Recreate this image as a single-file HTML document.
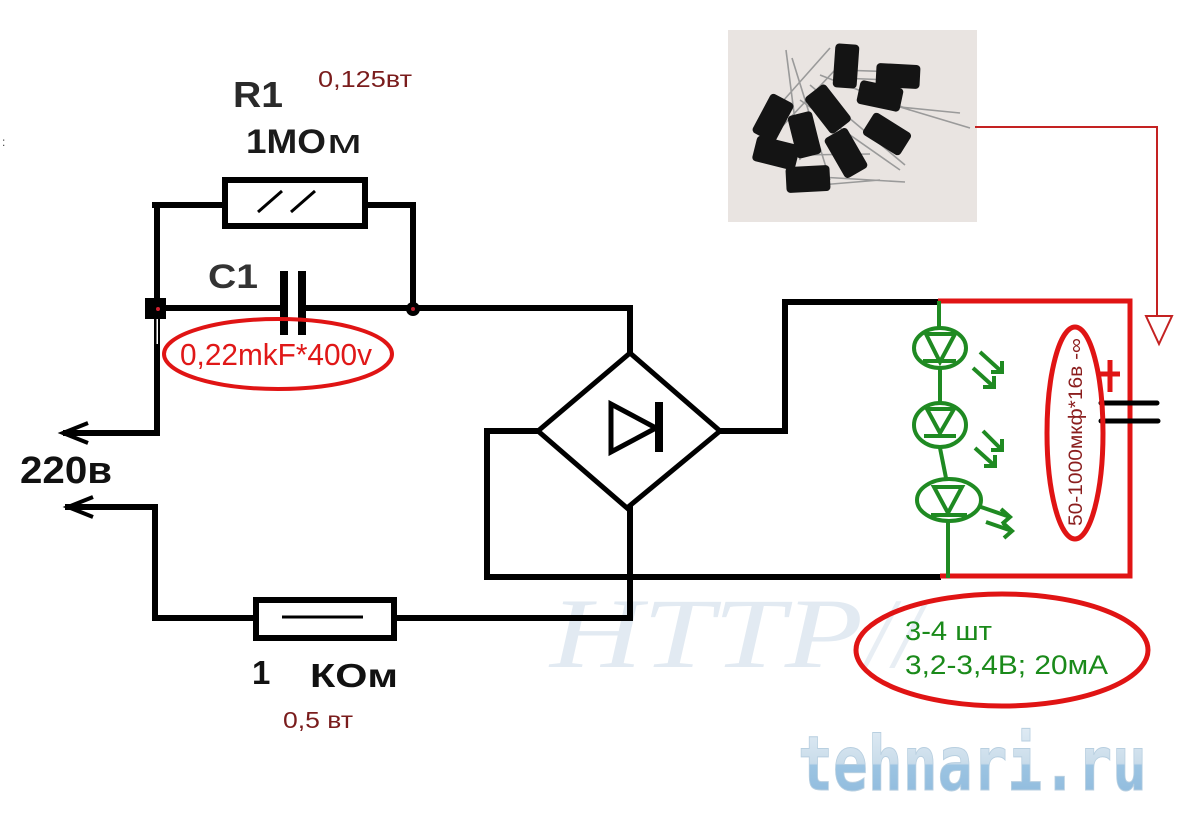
<!DOCTYPE html>
<html>
<head>
<meta charset="utf-8">
<style>
html,body{margin:0;padding:0;background:#fff;}
svg{display:block;}
</style>
</head>
<body>
<svg width="1197" height="822" viewBox="0 0 1197 822" xmlns="http://www.w3.org/2000/svg">
<defs>
<linearGradient id="tg" x1="0" y1="0" x2="0" y2="1">
<stop offset="0" stop-color="#e4eef6"/>
<stop offset="0.5" stop-color="#c9dcea"/>
<stop offset="0.52" stop-color="#9cc4e2"/>
<stop offset="1" stop-color="#8db9dc"/>
</linearGradient>
</defs>
<rect width="1197" height="822" fill="#fff"/>

<!-- watermark HTTP -->
<text x="550" y="667" font-family="Liberation Serif, serif" font-style="italic" font-size="100" fill="#e2eaf2" textLength="313" lengthAdjust="spacingAndGlyphs">HTTP</text>
<text x="866" y="667" font-family="Liberation Serif, serif" font-style="italic" font-size="100" fill="#e8eef4">//</text>

<!-- tehnari.ru watermark -->
<text x="798" y="790" font-family="DejaVu Sans Mono, monospace" font-weight="bold" font-size="76" fill="url(#tg)" stroke="#b8cfe0" stroke-width="1" textLength="349" lengthAdjust="spacingAndGlyphs">tehnari.ru</text>

<!-- photo -->
<rect x="728" y="30" width="249" height="192" fill="#e9e4e1"/>
<g stroke="#9a9a9a" stroke-width="1.6" fill="none">
<line x1="786" y1="50" x2="800" y2="160"/>
<line x1="792" y1="58" x2="830" y2="180"/>
<line x1="830" y1="48" x2="775" y2="110"/>
<line x1="835" y1="70" x2="760" y2="150"/>
<line x1="820" y1="75" x2="910" y2="110"/>
<line x1="880" y1="105" x2="960" y2="113"/>
<line x1="870" y1="98" x2="970" y2="128"/>
<line x1="810" y1="85" x2="905" y2="165"/>
<line x1="800" y1="100" x2="900" y2="170"/>
<line x1="820" y1="177" x2="905" y2="182"/>
<line x1="820" y1="185" x2="880" y2="180"/>
<line x1="800" y1="155" x2="870" y2="154"/>
<line x1="840" y1="70" x2="900" y2="72"/>
<line x1="840" y1="78" x2="890" y2="80"/>
</g>
<g fill="#141414">
<rect x="834" y="44" width="24" height="44" rx="4" transform="rotate(4 846 66)"/>
<rect x="876" y="64" width="44" height="24" rx="4" transform="rotate(3 898 76)"/>
<rect x="858" y="84" width="44" height="24" rx="4" transform="rotate(12 880 96)"/>
<rect x="760" y="96" width="26" height="44" rx="4" transform="rotate(28 773 118)"/>
<rect x="815" y="86" width="26" height="46" rx="4" transform="rotate(-38 828 109)"/>
<rect x="874" y="112" width="26" height="44" rx="4" transform="rotate(-58 887 134)"/>
<rect x="792" y="113" width="25" height="44" rx="4" transform="rotate(-14 804 135)"/>
<rect x="833" y="130" width="26" height="46" rx="4" transform="rotate(-30 846 153)"/>
<rect x="754" y="140" width="44" height="26" rx="4" transform="rotate(14 776 153)"/>
<rect x="786" y="166" width="44" height="26" rx="4" transform="rotate(-3 808 179)"/>
</g>

<!-- red arrow from photo -->
<path d="M975,127 H1157 V317" fill="none" stroke="#c42222" stroke-width="2"/>
<polygon points="1146,316 1172,316 1159,344" fill="#fff" stroke="#c42222" stroke-width="2"/>

<!-- black wiring -->
<g fill="none" stroke="#000" stroke-width="6" stroke-linecap="square">
<path d="M155,205 H222"/>
<path d="M366,205 H413 V308"/>
<path d="M157,205 V433 H66"/>
<path d="M155,308 H281"/>
<path d="M305,308 H630 V353"/>
<path d="M68,507 H155 V618 H253"/>
<path d="M396,618 H630 V508"/>
<path d="M538,431 H487 V577 H938"/>
<path d="M720,431 H785 V302 H936"/>
</g>
<!-- arrowheads 220v -->
<g stroke="#000" stroke-width="4" fill="none">
<path d="M88,423 L63,433 L88,443"/>
<path d="M93,497 L68,507 L93,517"/>
</g>
<!-- R1 resistor -->
<rect x="225" y="180" width="140" height="46" fill="#fff" stroke="#000" stroke-width="6"/>
<g stroke="#000" stroke-width="3">
<line x1="258" y1="212" x2="282" y2="191"/>
<line x1="291" y1="212" x2="315" y2="191"/>
</g>
<!-- C1 plates -->
<rect x="280" y="271" width="8" height="64" fill="#000"/>
<rect x="298" y="271" width="8" height="64" fill="#000"/>
<!-- junctions -->
<rect x="145" y="298" width="21" height="21" fill="#000"/>
<rect x="156.5" y="319" width="1.5" height="25" fill="#fff"/>
<circle cx="158" cy="309" r="2" fill="#d02030"/>
<circle cx="413" cy="309" r="7" fill="#000"/>
<circle cx="413" cy="309" r="2" fill="#c02030"/>
<!-- lower resistor -->
<rect x="256" y="600" width="138" height="38" fill="#fff" stroke="#000" stroke-width="6"/>
<line x1="282" y1="617" x2="363" y2="617" stroke="#000" stroke-width="3"/>
<!-- bridge -->
<polygon points="630,353 720,431 627,508 538,431" fill="#fff" stroke="#000" stroke-width="5"/>
<polygon points="611,404 611,452 656,428" fill="none" stroke="#000" stroke-width="5"/>
<rect x="655" y="402" width="8" height="50" fill="#000"/>

<!-- red loop -->
<path d="M938,301 H1130 V576 H940" fill="none" stroke="#e01414" stroke-width="5"/>

<!-- LEDs green -->
<g fill="none" stroke="#1f8a22" stroke-width="4">
<path d="M939,301 V327"/>
<path d="M940,369 V403"/>
<path d="M940,448 L946,478"/>
<path d="M948,522 V578"/>
<ellipse cx="940" cy="348" rx="26" ry="20"/>
<ellipse cx="940" cy="425" rx="26" ry="22"/>
<ellipse cx="949" cy="500" rx="32" ry="21"/>
<polygon points="926,334 955,334 940,362"/>
<line x1="923" y1="361" x2="956" y2="361"/>
<polygon points="927,409 954,409 940,433"/>
<line x1="924" y1="436" x2="956" y2="436"/>
<polygon points="934,487 962,487 948,513"/>
<line x1="931" y1="515" x2="967" y2="515"/>
<!-- light arrows -->
<path d="M980,352 L1002,372 M1002,361 V372 H991"/>
<path d="M973,368 L994,387 M994,376 V387 H983"/>
<path d="M983,431 L1002,450 M1002,439 V450 H991"/>
<path d="M975,448 L995,466 M995,455 V466 H984"/>
<path d="M981,507 L1010,517 M1001,509 L1010,517 L1002,524"/>
<path d="M986,522 L1012,531 M1003,523 L1012,531 L1004,538"/>
</g>

<!-- electrolytic cap -->
<g stroke="#000" stroke-width="5" stroke-linecap="round">
<line x1="1101" y1="403" x2="1157" y2="403"/>
<line x1="1101" y1="421" x2="1158" y2="421"/>
</g>
<g stroke="#e01414" stroke-width="5">
<line x1="1097" y1="374" x2="1120" y2="374"/>
<line x1="1110" y1="360" x2="1110" y2="392"/>
</g>
<ellipse cx="1075" cy="433" rx="28" ry="106" fill="none" stroke="#e01414" stroke-width="5"/>
<text transform="translate(1082,526) rotate(-90)" x="0" y="0" font-family="Liberation Sans, DejaVu Sans, sans-serif" font-size="19" fill="#8b1e1e" textLength="188" lengthAdjust="spacingAndGlyphs">50-1000мкф*16в -∞</text>

<!-- ellipses -->
<ellipse cx="278" cy="354" rx="114" ry="35" fill="none" stroke="#e01414" stroke-width="4"/>
<ellipse cx="1002" cy="650" rx="146" ry="56" fill="none" stroke="#e01414" stroke-width="5"/>

<!-- texts -->
<g font-family="Liberation Sans, DejaVu Sans, sans-serif">
<text x="233" y="107" font-size="36" font-weight="bold" fill="#2a2a2a" textLength="50" lengthAdjust="spacingAndGlyphs">R1</text>
<text x="246" y="153" font-size="34" font-weight="bold" fill="#1a1a1a" textLength="80" lengthAdjust="spacingAndGlyphs">1МО</text>
<text x="327" y="153" font-size="34" fill="#1a1a1a" textLength="35" lengthAdjust="spacingAndGlyphs">м</text>
<text x="318" y="87" font-size="23" fill="#7a1c1c" textLength="94" lengthAdjust="spacingAndGlyphs">0,125вт</text>
<text x="208" y="288" font-size="34" font-weight="bold" fill="#333" textLength="50" lengthAdjust="spacingAndGlyphs">C1</text>
<text x="180" y="365" font-size="31" fill="#e01818" textLength="192" lengthAdjust="spacingAndGlyphs">0,22mkF*400v</text>
<text x="20" y="483" font-size="38" font-weight="bold" fill="#111" textLength="92" lengthAdjust="spacingAndGlyphs">220в</text>
<text x="252" y="684" font-size="33" font-weight="bold" fill="#111">1</text>
<text x="310" y="687" font-size="33" font-weight="bold" fill="#111" textLength="88" lengthAdjust="spacingAndGlyphs">КОм</text>
<text x="283" y="728" font-size="23" fill="#7a1c1c" textLength="70" lengthAdjust="spacingAndGlyphs">0,5 вт</text>
<text x="905" y="640" font-size="27" fill="#1a8a1a" textLength="87" lengthAdjust="spacingAndGlyphs">3-4 шт</text>
<text x="905" y="674" font-size="27" fill="#1a8a1a" textLength="203" lengthAdjust="spacingAndGlyphs">3,2-3,4В; 20мА</text>
<text x="2" y="146" font-size="12" fill="#444">:</text>
</g>
</svg>
</body>
</html>
